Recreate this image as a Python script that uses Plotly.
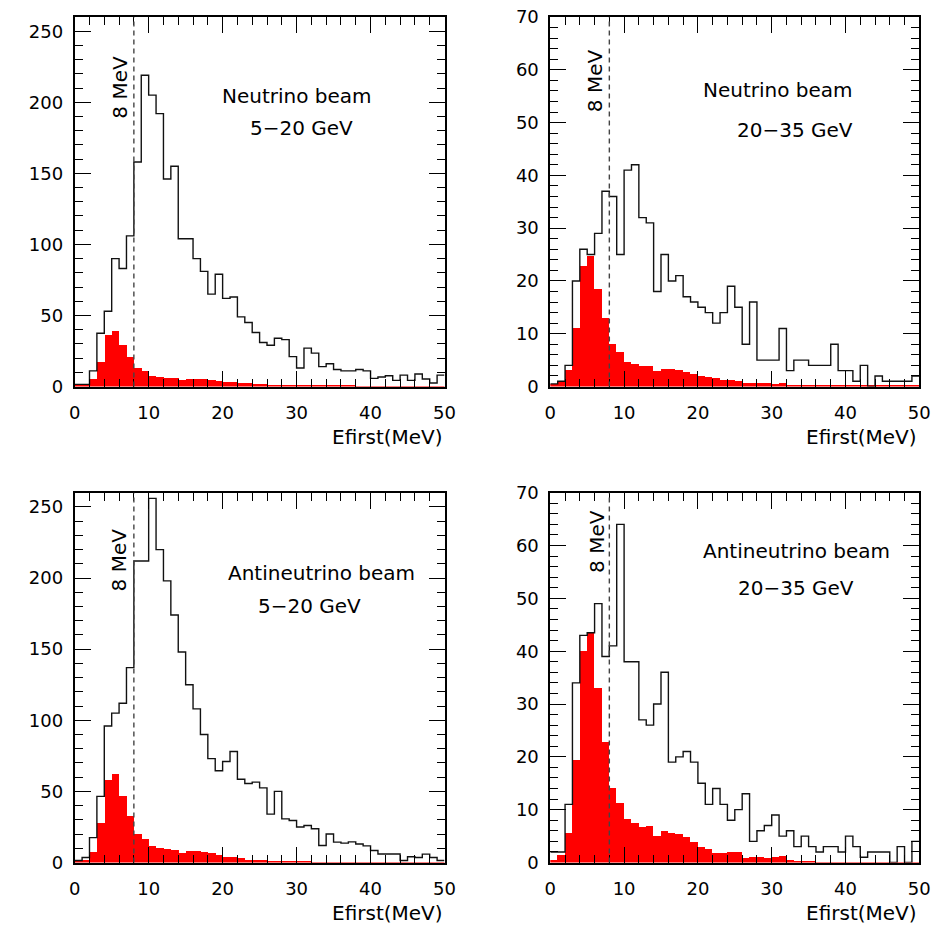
import plotly.graph_objects as go

# ---------------- data (events per 1 MeV bin, 0..50 MeV) ----------------
bin_edges = list(range(0, 51))

nu_5_20_all = [1.5, 1.5, 11, 37.5, 53, 90, 83, 106, 158, 219,
               205, 192, 146, 155, 104, 104, 90, 81, 65, 79,
               62, 63, 49, 45, 38, 31, 29, 34, 33, 21,
               13, 27, 23.5, 14, 16, 12, 11, 11, 12, 11,
               5.7, 6.7, 7.6, 4.3, 8, 4.3, 8.8, 5.3, 2.5, 8]
nu_5_20_sel = [1, 1.5, 5, 17.5, 36, 39, 29.5, 20.5, 12.7, 11,
               7.4, 6.5, 6, 6, 4.8, 5.3, 5.3, 5.1, 4.6, 4.2,
               3.5, 3.1, 2.8, 2.2, 2, 1.7, 1.3, 1.3, 1, 1,
               0.8, 1, 0.8, 0.6, 0.5, 0.5, 0.4, 0.4, 0.3, 0.3,
               0.3, 0.3, 0.2, 0.2, 0.2, 0.2, 0.2, 0.2, 0.1, 0.1]

nu_20_35_all = [0.5, 1, 4, 20, 26, 25, 29, 37, 36, 25,
                41, 42, 32, 31, 18, 25, 20, 21, 17, 16,
                15, 14, 12, 14, 19, 15, 8, 16, 5, 5,
                5, 11, 3, 5, 5, 4, 4, 4, 8, 3,
                3, 1, 4, 0, 2, 1, 1, 1, 1, 2]
nu_20_35_sel = [0.5, 1, 3.2, 11, 22.8, 24.7, 18.5, 12.9, 8, 6.6,
                4.7, 4.3, 3.8, 3.8, 2.9, 3.4, 3.3, 3.1, 2.7, 2.4,
                1.9, 1.8, 1.6, 1.3, 1.2, 1.1, 0.7, 0.7, 0.7, 0.6,
                0.5, 0.7, 0.35, 0.25, 0.2, 0.2, 0.2, 0.15, 0.15, 0.1,
                0.1, 0.1, 0.1, 0.1, 0.1, 0.1, 0.1, 0.1, 0.1, 0.1]

anu_5_20_all = [1.4, 3.5, 17.5, 46.5, 96, 105, 112, 137, 212, 212,
                256, 220, 198, 174, 148, 125, 108, 90, 73, 64.5,
                71, 78, 58.5, 55.5, 56.5, 52.5, 34, 50, 30.7, 29.5,
                25, 26, 23.7, 12, 20, 14.3, 13.6, 14.5, 13, 11.7,
                8.4, 6, 6, 6, 1.4, 4, 3.5, 5.9, 3.5, 1.4]
anu_5_20_sel = [1, 2, 7.3, 28, 58, 62.5, 47.2, 33, 20.5, 16.5,
                11.5, 10.3, 9.5, 9.2, 7, 8, 8, 7.5, 6.8, 5.6,
                4.4, 4, 3.3, 2.3, 2.1, 2.1, 1.2, 1.4, 1.4, 1.2,
                1.2, 1.4, 0.4, 0.4, 0.3, 0.3, 0.3, 0.3, 0.3, 0.2,
                0.2, 0.2, 0.2, 0.2, 0.2, 0.2, 0.2, 0.2, 0.2, 0.2]

anu_20_35_all = [2, 2, 11, 34, 43, 43.5, 49, 39, 41, 64,
                 38, 38, 27, 26, 30, 36, 19, 20, 21, 19,
                 15, 11, 14, 11, 8, 10, 13, 4, 6, 7,
                 9, 5, 6, 3, 5, 3, 2, 3, 3, 2,
                 5, 3, 1, 2, 2, 2, 0, 3, 0, 4]
anu_20_35_sel = [0.6, 1.5, 5.6, 19.5, 40, 43.5, 33, 22.8, 14.2, 11.3,
                 8.2, 7.5, 6.8, 7, 5, 6, 5.7, 5.4, 4.9, 4,
                 3, 2.7, 1.8, 1.9, 2, 2, 1, 1.1, 1.1, 1,
                 1.1, 1.3, 0.5, 0.4, 0.4, 0.2, 0.15, 0.15, 0.15, 0.15,
                 0.15, 0.15, 0.15, 0.15, 0.15, 0.15, 0.15, 0.15, 0.15, 0.15]

beam_titles = ["Neutrino beam", "Neutrino beam", "Antineutrino beam", "Antineutrino beam"]
energy_titles = ["5\u221220 GeV", "20\u221235 GeV", "5\u221220 GeV", "20\u221235 GeV"]
y_max = [260, 70, 260, 70]
y_major = [50, 10, 50, 10]
y_minor = [10, 2, 10, 2]
cut_mev = 8
x_label = "Efirst(MeV)"
cut_label = "8 MeV"

panels_all = [nu_5_20_all, nu_20_35_all, anu_5_20_all, anu_20_35_all]
panels_sel = [nu_5_20_sel, nu_20_35_sel, anu_5_20_sel, anu_20_35_sel]

# ---------------- layout geometry ----------------
W, H = 939, 931
x_domains = [[74.7 / W, 444.5 / W], [550.3 / W, 919.3 / W]]
y_domains = [[1 - 386.5 / H, 1 - 17 / H], [1 - 862.5 / H, 1 - 492.7 / H]]

# annotation positions (domain fractions)
beam_pos = [(0.600, 0.786), (0.617, 0.802), (0.667, 0.783), (0.667, 0.842)]
energy_pos = [(0.612, 0.700), (0.662, 0.694), (0.634, 0.693), (0.667, 0.742)]
cut_label_pos = [(6.0, 0.809), (6.05, 0.829), (6.0, 0.817), (6.25, 0.868)]

FONT = "DejaVu Sans"

fig = go.Figure()
centers = [(bin_edges[i] + bin_edges[i + 1]) / 2 for i in range(len(bin_edges) - 1)]

for p in range(4):
    ax = "" if p == 0 else str(p + 1)
    xa, ya = "x" + ax, "y" + ax
    fig.add_trace(go.Bar(x=centers, y=panels_sel[p], width=1, marker_color="#ff0000",
                         marker_line_width=0, xaxis=xa, yaxis=ya, showlegend=False))
    step_y = panels_all[p] + [panels_all[p][-1]]
    fig.add_trace(go.Scatter(x=bin_edges, y=step_y, mode="lines", line_shape="hv",
                             line=dict(color="#111111", width=1.4),
                             xaxis=xa, yaxis=ya, showlegend=False))

    row, col = divmod(p, 2)
    common = dict(showline=True, linecolor="black", linewidth=1.8, mirror="allticks",
                  ticks="inside", ticklen=16, tickwidth=1.3, tickcolor="black",
                  showgrid=False, zeroline=False, automargin=False,
                  ticklabeloverflow="allow",
                  tickfont=dict(family=FONT, size=18, color="black"))
    fig.update_layout(**{
        "xaxis" + ax: dict(domain=x_domains[col], range=[0, 50], anchor=ya,
                           tick0=0, dtick=10, ticklabelstandoff=9,
                           minor=dict(ticks="inside", ticklen=8, dtick=2, tickwidth=1.3,
                                      tickcolor="black", showgrid=False),
                           **common),
        "yaxis" + ax: dict(domain=y_domains[row], range=[0, y_max[p]], anchor=xa,
                           tick0=0, dtick=y_major[p], ticklabelstandoff=6,
                           minor=dict(ticks="inside", ticklen=8, dtick=y_minor[p], tickwidth=1.3,
                                      tickcolor="black", showgrid=False),
                           **common),
    })

    fig.add_shape(type="line", xref=xa, yref=ya + " domain", x0=cut_mev, x1=cut_mev,
                  y0=0, y1=1, line=dict(color="#444444", width=1.4, dash="5px,4px"), layer="above")

    fig.add_annotation(xref=xa, yref=ya + " domain", x=cut_label_pos[p][0], y=cut_label_pos[p][1],
                       xanchor="center", yanchor="middle",
                       text=cut_label, textangle=-90, showarrow=False,
                       font=dict(family=FONT, size=20, color="black"))
    fig.add_annotation(xref=xa + " domain", yref=ya + " domain", x=beam_pos[p][0], y=beam_pos[p][1],
                       xanchor="center", yanchor="middle",
                       text=beam_titles[p], showarrow=False,
                       font=dict(family=FONT, size=20, color="black"))
    fig.add_annotation(xref=xa + " domain", yref=ya + " domain", x=energy_pos[p][0], y=energy_pos[p][1],
                       xanchor="center", yanchor="middle",
                       text=energy_titles[p], showarrow=False,
                       font=dict(family=FONT, size=20, color="black"))
    fig.add_annotation(xref=xa + " domain", yref=ya + " domain", x=1.0, y=-0.137,
                       xanchor="right", yanchor="middle",
                       text=x_label, showarrow=False,
                       font=dict(family=FONT, size=20, color="black"))

fig.update_layout(width=W, height=H, margin=dict(l=0, r=0, t=0, b=0),
                  paper_bgcolor="white", plot_bgcolor="white",
                  barmode="overlay", bargap=0, showlegend=False)

# remove the browser's default 8px page margin so the figure fills the window exactly
fig.write_html("out.html", config={"displayModeBar": False},
               post_script="document.body.style.margin='0';")
